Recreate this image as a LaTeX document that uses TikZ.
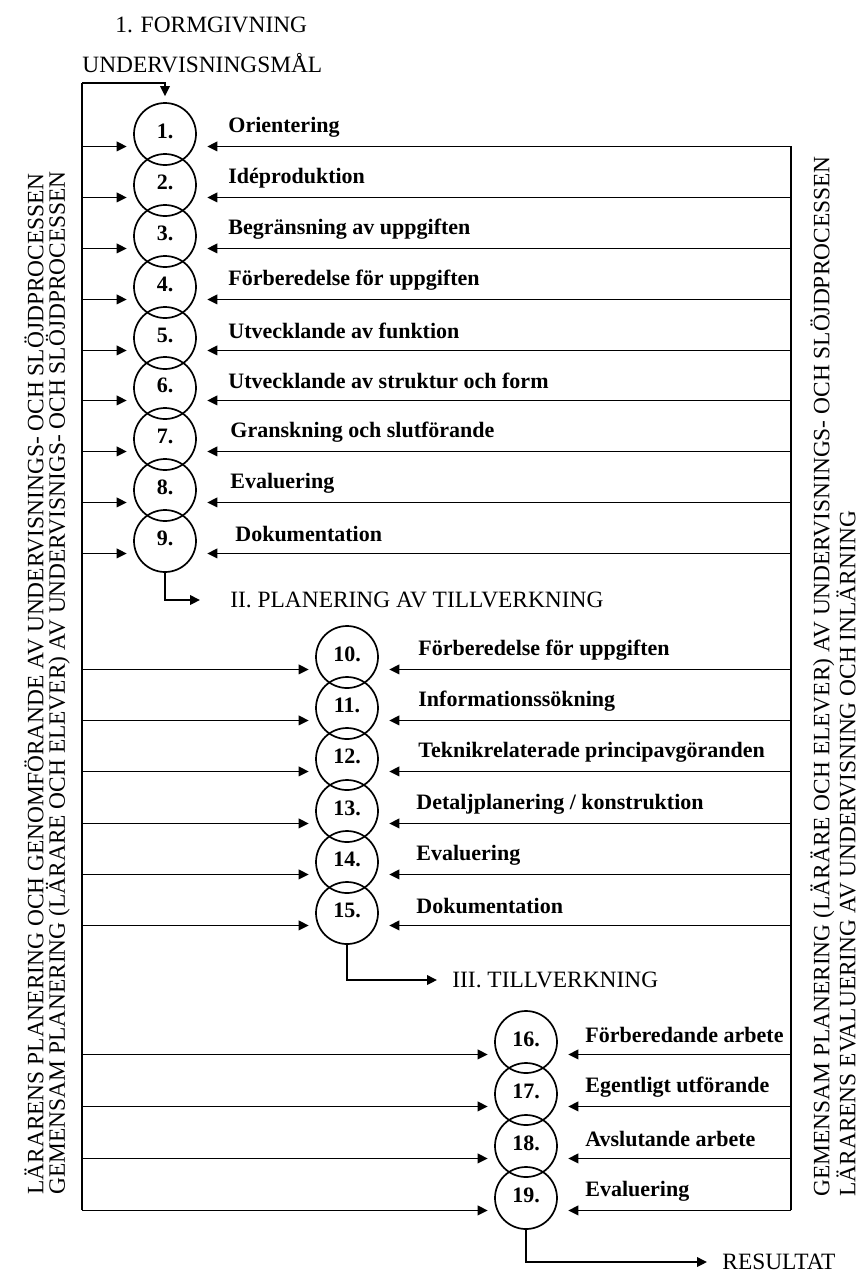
\documentclass[tikz,border=0pt]{standalone}
\usepackage{fontspec}
\setmainfont{Liberation Serif}
\usetikzlibrary{arrows.meta}
\tikzset{
  stage/.style={circle,draw,line width=0.85pt,minimum size=31pt,inner sep=0pt,font=\fontsize{11}{13}\selectfont\bfseries},
  task/.style={anchor=west,inner sep=0pt,font=\fontsize{11}{13}\selectfont\bfseries},
  phase/.style={anchor=west,inner sep=0pt,font=\fontsize{11.7}{14}\selectfont},
  flow/.style={-{Triangle[length=5pt,width=4.8pt]},line width=0.85pt},
  margin/.style={rotate=90,anchor=north west,align=left,inner sep=0pt,font=\fontsize{11.7}{10.8}\selectfont}
}
\newcommand{\nr}[1]{\raisebox{3pt}{#1}}
\begin{document}
\begin{tikzpicture}[x=0.5pt,y=-0.5pt]
      \useasboundingbox (0,0) rectangle (864,1276);
      \draw
        (115,25) node[phase] (formgivning){1. FORMGIVNING}
        (82,63) node[phase] (mal){UNDERVISNINGSMÅL}
        (230,600) node[phase] (planering){II. PLANERING AV TILLVERKNING}
        (452,980) node[phase] (tillverkning){III. TILLVERKNING}
        (722,1262) node[phase] (resultat){RESULTAT};
      \draw
        (165,134) node[stage] (s1){\nr{1.}}
        (165,185) node[stage] (s2){\nr{2.}}
        (165,236) node[stage] (s3){\nr{3.}}
        (165,287) node[stage] (s4){\nr{4.}}
        (165,338) node[stage] (s5){\nr{5.}}
        (165,388) node[stage] (s6){\nr{6.}}
        (165,439) node[stage] (s7){\nr{7.}}
        (165,490) node[stage] (s8){\nr{8.}}
        (165,541) node[stage] (s9){\nr{9.}}
        (347,657) node[stage] (s10){\nr{10.}}
        (347,708) node[stage] (s11){\nr{11.}}
        (347,759) node[stage] (s12){\nr{12.}}
        (347,811) node[stage] (s13){\nr{13.}}
        (347,862) node[stage] (s14){\nr{14.}}
        (347,913) node[stage] (s15){\nr{15.}}
        (526,1042) node[stage] (s16){\nr{16.}}
        (526,1094) node[stage] (s17){\nr{17.}}
        (526,1146) node[stage] (s18){\nr{18.}}
        (526,1198) node[stage] (s19){\nr{19.}};
      \draw
        (228,127) node[task] (l1){Orientering}
        (228,178) node[task] (l2){Idéproduktion}
        (228,229) node[task] (l3){Begränsning av uppgiften}
        (228,280) node[task] (l4){Förberedelse för uppgiften}
        (228,331) node[task] (l5){Utvecklande av funktion}
        (228,381) node[task] (l6){Utvecklande av struktur och form}
        (230,432) node[task] (l7){Granskning och slutförande}
        (230,483) node[task] (l8){Evaluering}
        (235,534) node[task] (l9){Dokumentation}
        (418,650) node[task] (l10){Förberedelse för uppgiften}
        (418,701) node[task] (l11){Informationssökning}
        (418,752) node[task] (l12){Teknikrelaterade principavgöranden}
        (416,804) node[task] (l13){Detaljplanering / konstruktion}
        (416,855) node[task] (l14){Evaluering}
        (416,906) node[task] (l15){Dokumentation}
        (585,1035) node[task] (l16){Förberedande arbete}
        (585,1087) node[task] (l17){Egentligt utförande}
        (585,1139) node[task] (l18){Avslutande arbete}
        (585,1191) node[task] (l19){Evaluering};
      \node[margin] (vanster) at (24,1195)
        {LÄRARENS PLANERING OCH GENOMFÖRANDE AV UNDERVISNINGS- OCH SLÖJDPROCESSEN\\
         GEMENSAM PLANERING (LÄRARE OCH ELEVER) AV UNDERVISNIGS- OCH SLÖJDPROCESSEN};
      \node[margin] (hoger) at (810,1197)
        {GEMENSAM PLANERING (LÄRÄRE OCH ELEVER) AV UNDERVISNINGS- OCH SLÖJDPROCESSEN\\
         LÄRARENS EVALUERING AV UNDERVISNING OCH INLÄRNING};
      \coordinate (lt) at (82,83);
      \coordinate (lb) at (82,1210);
      \coordinate (rt) at (791,146);
      \coordinate (rb) at (791,1210);
      \draw[line width=0.85pt] (lt) -- (lb);
      \draw[line width=0.85pt] (rt) -- (rb);
      \draw[flow,shorten >=3pt] (lt) -| (s1.north);
      \begin{scope}[flow,shorten >=4.5pt]
        \draw (s1.203 -| lt) -- (s1.203);
        \draw (s2.203 -| lt) -- (s2.203);
        \draw (s3.203 -| lt) -- (s3.203);
        \draw (s4.203 -| lt) -- (s4.203);
        \draw (s5.203 -| lt) -- (s5.203);
        \draw (s6.203 -| lt) -- (s6.203);
        \draw (s7.203 -| lt) -- (s7.203);
        \draw (s8.203 -| lt) -- (s8.203);
        \draw (s9.203 -| lt) -- (s9.203);
        \draw (s10.203 -| lt) -- (s10.203);
        \draw (s11.203 -| lt) -- (s11.203);
        \draw (s12.203 -| lt) -- (s12.203);
        \draw (s13.203 -| lt) -- (s13.203);
        \draw (s14.203 -| lt) -- (s14.203);
        \draw (s15.203 -| lt) -- (s15.203);
        \draw (s16.203 -| lt) -- (s16.203);
        \draw (s17.203 -| lt) -- (s17.203);
        \draw (s18.203 -| lt) -- (s18.203);
        \draw (s19.203 -| lt) -- (s19.203);
      \end{scope}
      \begin{scope}[flow,shorten >=6.5pt]
        \draw (s1.-23 -| rt) -- (s1.-23);
        \draw (s2.-23 -| rt) -- (s2.-23);
        \draw (s3.-23 -| rt) -- (s3.-23);
        \draw (s4.-23 -| rt) -- (s4.-23);
        \draw (s5.-23 -| rt) -- (s5.-23);
        \draw (s6.-23 -| rt) -- (s6.-23);
        \draw (s7.-23 -| rt) -- (s7.-23);
        \draw (s8.-23 -| rt) -- (s8.-23);
        \draw (s9.-23 -| rt) -- (s9.-23);
        \draw (s10.-23 -| rt) -- (s10.-23);
        \draw (s11.-23 -| rt) -- (s11.-23);
        \draw (s12.-23 -| rt) -- (s12.-23);
        \draw (s13.-23 -| rt) -- (s13.-23);
        \draw (s14.-23 -| rt) -- (s14.-23);
        \draw (s15.-23 -| rt) -- (s15.-23);
        \draw (s16.-23 -| rt) -- (s16.-23);
        \draw (s17.-23 -| rt) -- (s17.-23);
        \draw (s18.-23 -| rt) -- (s18.-23);
        \draw (s19.-23 -| rt) -- (s19.-23);
      \end{scope}
      \draw[flow,shorten >=15pt] (s9.south) |- (planering.west);
      \draw[flow,shorten >=7.5pt] (s15.south) |- (tillverkning.west);
      \draw[flow,shorten >=7.5pt] (s19.south) |- (resultat.west);
    \end{tikzpicture}
\end{document}
